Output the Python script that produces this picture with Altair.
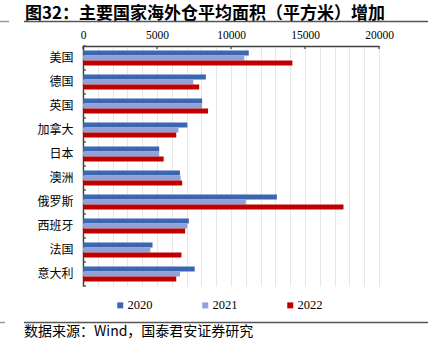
import altair as alt
import pandas as pd

countries = ["美国", "德国", "英国", "加拿大", "日本", "澳洲", "俄罗斯", "西班牙", "法国", "意大利"]
years = ["2020", "2021", "2022"]
v2020 = [11200, 8300, 8050, 7050, 5150, 6550, 13100, 7150, 4700, 7550]
v2021 = [10900, 7450, 8050, 6450, 5150, 6600, 11000, 7050, 4550, 6550]
v2022 = [14150, 7850, 8450, 6300, 5450, 6700, 17600, 6900, 6650, 6300]
x_labels = [0, 5000, 10000, 15000, 20000]
grid_values = list(range(0, 20001, 1000))
colors = ["#3D66B2", "#8EA4D9", "#C00000"]
title_text = "图32：主要国家海外仓平均面积（平方米）增加"
source_text = "数据来源：Wind，国泰君安证券研究"

rows = []
for yr, vals in zip(years, [v2020, v2021, v2022]):
    for c, v in zip(countries, vals):
        rows.append({"country": c, "year": yr, "value": v})
df = pd.DataFrame(rows)

xs = alt.Scale(domain=[0, 20000], nice=False)
ys = alt.Scale(domain=countries, paddingInner=0, paddingOuter=0)

x_axis = alt.Axis(orient="top", values=grid_values,
                  labelExpr="datum.value % 5000 === 0 ? datum.label : ''",
                  format="d", tickSize=0, grid=True, gridColor="#E6E6E6",
                  gridWidth=1, domainColor="#404040", domainWidth=1.5,
                  labelFont="Liberation Serif", labelFontSize=11.5,
                  labelColor="black", labelPadding=6, labelOverlap=False,
                  labelFlush=False, title=None)
y_axis = alt.Axis(tickSize=0, domainColor="#404040", domainWidth=1.5,
                  labelFont="Noto Sans CJK SC", labelFontSize=12,
                  labelColor="black", labelPadding=10, grid=False, title=None)

bars = alt.Chart(df).mark_bar().encode(
    x=alt.X("value:Q", scale=xs, axis=x_axis),
    y=alt.Y("country:N", scale=ys, sort=countries, axis=y_axis),
    yOffset=alt.YOffset("year:N", scale=alt.Scale(domain=years, paddingInner=0, paddingOuter=0.9)),
    color=alt.Color("year:N", scale=alt.Scale(domain=years, range=colors),
                    legend=alt.Legend(orient="none", legendX=31, legendY=253,
                                      direction="horizontal", columns=3,
                                      columnPadding=46, gridAlign="all",
                                      symbolType="square",
                                      symbolSize=36, symbolStrokeWidth=0,
                                      labelFont="Liberation Serif", labelFontSize=12.5,
                                      labelColor="black", labelOffset=1, title=None)),
)

xticks = alt.Chart(pd.DataFrame({"value": x_labels})).mark_rule(color="#404040", strokeWidth=1.2).encode(
    x=alt.X("value:Q", scale=xs, axis=x_axis),
    y=alt.value(0), y2=alt.value(3),
)

yticks = alt.Chart(pd.DataFrame({"country": countries})).mark_rule(color="#404040", strokeWidth=1.2).encode(
    y=alt.Y("country:N", scale=ys, bandPosition=0, axis=y_axis),
    x=alt.value(0), x2=alt.value(3),
)

yticks_end = alt.Chart(pd.DataFrame({"country": countries[-1:]})).mark_rule(color="#404040", strokeWidth=1.2).encode(
    y=alt.Y("country:N", scale=ys, bandPosition=1, axis=y_axis),
    x=alt.value(0), x2=alt.value(3),
)

title_mark = alt.Chart(pd.DataFrame({"t": [title_text]})).mark_text(
    align="left", baseline="alphabetic", font="Noto Sans CJK SC", fontSize=17,
    fontWeight="bold", color="black").encode(
    x=alt.value(-58), y=alt.value(-27), text="t:N")

source_mark = alt.Chart(pd.DataFrame({"t": [source_text]})).mark_text(
    align="left", baseline="middle", font="Noto Sans CJK SC", fontSize=14,
    color="black").encode(
    x=alt.value(-59), y=alt.value(286), text="t:N")

top_line = alt.Chart(pd.DataFrame({"a": [0]})).mark_rule(color="#555555", strokeWidth=1.5).encode(
    x=alt.value(-59), x2=alt.value(345), y=alt.value(-24.5))
top_short = alt.Chart(pd.DataFrame({"a": [0]})).mark_rule(color="#999999", strokeWidth=1.5).encode(
    x=alt.value(-83), x2=alt.value(-74), y=alt.value(-24.5))
bot_line = alt.Chart(pd.DataFrame({"a": [0]})).mark_rule(color="#555555", strokeWidth=1.5).encode(
    x=alt.value(-59), x2=alt.value(345), y=alt.value(276.5))
bot_short = alt.Chart(pd.DataFrame({"a": [0]})).mark_rule(color="#999999", strokeWidth=1.5).encode(
    x=alt.value(-83), x2=alt.value(-78), y=alt.value(276.5))

chart = alt.layer(
    bars, xticks, yticks, yticks_end, title_mark, source_mark,
    top_line, top_short, bot_line, bot_short
).properties(
    width=296, height=240,
    autosize=alt.AutoSizeParams(type="none"),
    padding={"left": 83, "top": 46, "right": 49, "bottom": 65},
).configure_view(stroke=None)

chart.save("out.html", embed_options={"renderer": "svg", "actions": False})
